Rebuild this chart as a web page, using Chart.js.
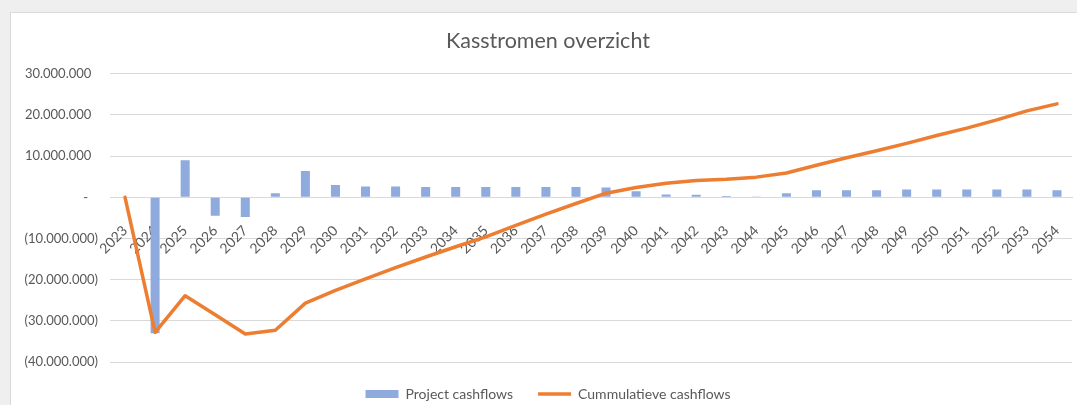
<!DOCTYPE html>
<html>
<head>
<meta charset="utf-8">
<script src="https://cdn.jsdelivr.net/npm/chart.js@4"></script>
<style>
    html, body {
        margin: 0;
        padding: 0;
        background: #efefef;
        overflow: hidden;
    }
    .panel {
        position: absolute;
        left: 10px;
        top: 12px;
        width: 1080px;
        height: 400px;
        background: #fff;
        border: 1px solid #d9d9d9;
        box-sizing: border-box;
    }
    #chart {
        position: absolute;
        left: 10px;
        top: 12px;
    }
</style>
</head>
<body>
<div class="panel"></div>
<canvas id="chart" width="1077" height="399"></canvas>
<script>
// Years on the x axis
const years = ['2023', '2024', '2025', '2026', '2027', '2028', '2029', '2030',
    '2031', '2032', '2033', '2034', '2035', '2036', '2037', '2038', '2039',
    '2040', '2041', '2042', '2043', '2044', '2045', '2046', '2047', '2048',
    '2049', '2050', '2051', '2052', '2053', '2054'];

// Yearly project cashflows (bars)
const projectCashflows = [0, -33000000, 9000000, -4500000, -4800000, 1000000,
    6400000, 3000000, 2600000, 2600000, 2500000, 2500000, 2500000, 2500000,
    2500000, 2500000, 2400000, 1500000, 700000, 600000, 300000, 200000,
    1000000, 1700000, 1700000, 1700000, 1900000, 1900000, 1900000, 1900000,
    1900000, 1700000];

// Cumulative cashflows (line)
const cumulativeCashflows = [0, -32800000, -23900000, -28500000, -33200000,
    -32300000, -25700000, -22600000, -19800000, -17100000, -14500000,
    -12000000, -9600000, -6800000, -4100000, -1500000, 1000000, 2400000,
    3400000, 4100000, 4400000, 4900000, 5900000, 7800000, 9600000, 11300000,
    13100000, 15000000, 16800000, 18800000, 21000000, 22700000];

const yTicks = { min: -40000000, max: 30000000, step: 10000000 };

const textColor = '#595959';
const gridColor = '#d9d9d9';
const fontFamily = "Lato, 'Open Sans', sans-serif";

// Excel accounting style: 30.000.000 / (10.000.000) / -
function formatAmount(value) {
    if (value === 0) return '-   ';
    const digits = Math.abs(value).toFixed(0).replace(/\B(?=(\d{3})+(?!\d))/g, '.');
    return value < 0 ? '(' + digits + ')' : digits + '  ';
}

const ctx = document.getElementById('chart');

new Chart(ctx, {
    data: {
        labels: years,
        datasets: [
            {
                type: 'bar',
                label: 'Project cashflows',
                data: projectCashflows,
                backgroundColor: '#8faadc',
                borderWidth: 0,
                barPercentage: 0.3,
                categoryPercentage: 1,
                pointStyle: 'rect',
                order: 2
            },
            {
                type: 'line',
                label: 'Cummulatieve cashflows',
                data: cumulativeCashflows,
                borderColor: '#ed7d31',
                backgroundColor: '#ed7d31',
                borderWidth: 3.5,
                borderCapStyle: 'round',
                borderJoinStyle: 'round',
                tension: 0,
                pointRadius: 0,
                pointStyle: 'line',
                order: 1
            }
        ]
    },
    options: {
        responsive: false,
        animation: false,
        layout: {
            padding: { left: 14, right: 15, top: 0, bottom: 0 }
        },
        scales: {
            x: {
                type: 'category',
                offset: true,
                position: { y: 0 },
                grid: { display: false },
                border: { display: true, color: gridColor, width: 1 },
                ticks: {
                    autoSkip: false,
                    maxRotation: 45,
                    minRotation: 45,
                    padding: 17,
                    color: textColor,
                    font: { family: fontFamily, size: 14 }
                }
            },
            y: {
                min: yTicks.min,
                max: yTicks.max,
                afterFit: scale => { scale.width = 86; },
                grid: { color: gridColor, lineWidth: 1, drawTicks: false },
                border: { display: false },
                ticks: {
                    stepSize: yTicks.step,
                    padding: 12,
                    color: textColor,
                    font: { family: fontFamily, size: 13 },
                    callback: value => formatAmount(value)
                }
            }
        },
        plugins: {
            title: {
                display: true,
                text: 'Kasstromen overzicht',
                color: textColor,
                font: { family: fontFamily, size: 21.5, weight: 'normal' },
                padding: { top: 16, bottom: 20 }
            },
            legend: {
                position: 'bottom',
                labels: {
                    usePointStyle: true,
                    pointStyleWidth: 33,
                    boxHeight: 8,
                    padding: 25,
                    color: textColor,
                    font: { family: fontFamily, size: 14 },
                    sort: (a, b) => a.datasetIndex - b.datasetIndex
                }
            },
            tooltip: { enabled: false }
        }
    }
});
</script>
</body>
</html>
